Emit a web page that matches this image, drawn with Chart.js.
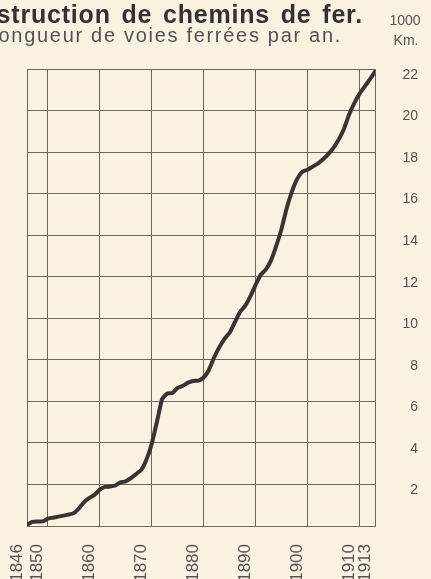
<!DOCTYPE html>
<html>
<head>
<meta charset="utf-8">
<script src="https://cdn.jsdelivr.net/npm/chart.js@4.4.0/dist/chart.umd.min.js"></script>
<style>
  html, body { margin: 0; padding: 0; background: #faf2e1; overflow: hidden; }
  #wrap { width: 431px; height: 579px; position: relative; }
</style>
</head>
<body>
<div id="wrap"><canvas id="chart"></canvas></div>
<script>
// years and railway length (thousand km)
const years = [1846, 1847, 1848, 1849, 1850, 1851, 1852, 1853, 1854, 1855,
  1856, 1857, 1858, 1859, 1860, 1861, 1862, 1863, 1864, 1865,
  1866, 1867, 1868, 1869, 1870, 1871, 1872, 1873, 1874, 1875,
  1876, 1877, 1878, 1879, 1880, 1881, 1882, 1883, 1884, 1885,
  1886, 1887, 1888, 1889, 1890, 1891, 1892, 1893, 1894, 1895,
  1896, 1897, 1898, 1899, 1900, 1901, 1902, 1903, 1904, 1905,
  1906, 1907, 1908, 1909, 1910, 1911, 1912, 1913];
const km = [0.05, 0.2, 0.22, 0.22, 0.35, 0.4, 0.45, 0.5, 0.55, 0.62,
  0.85, 1.15, 1.35, 1.5, 1.75, 1.88, 1.9, 1.95, 2.1, 2.15,
  2.3, 2.5, 2.7, 3.2, 3.95, 5.0, 6.1, 6.38, 6.4, 6.65,
  6.75, 6.9, 6.98, 7.0, 7.15, 7.5, 8.1, 8.6, 9.0, 9.3,
  9.8, 10.3, 10.6, 11.05, 11.6, 12.1, 12.35, 12.8, 13.5, 14.3,
  15.3, 16.1, 16.7, 17.05, 17.15, 17.3, 17.45, 17.65, 17.9, 18.2,
  18.6, 19.1, 19.8, 20.35, 20.8, 21.15, 21.5, 21.87];
const yearTicks = [1846, 1850, 1860, 1870, 1880, 1890, 1900, 1910, 1913];
const kmTicks = [0, 2, 4, 6, 8, 10, 12, 14, 16, 18, 20, 22];

const titleText = 'Construction de chemins de fer.';
const subtitleText = 'Longueur de voies ferrées par an.';
const unitLines = ['1000', 'Km.'];

const paper = '#faf2e1';
const ink = '#3a3431';
const rule = '#6d685f';
const grey = '#555250';
const family = '"Liberation Sans", Arial, sans-serif';

const headerPlugin = {
  id: 'header',
  beforeDraw(chart) {
    const ctx = chart.ctx;
    ctx.save();
    ctx.fillStyle = paper;
    ctx.fillRect(0, 0, chart.width, chart.height);
    ctx.restore();
  },
  afterDraw(chart) {
    const ctx = chart.ctx;
    ctx.save();
    ctx.textAlign = 'right';
    ctx.textBaseline = 'alphabetic';
    ctx.fillStyle = '#353130';
    ctx.font = 'bold 25px ' + family;
    ctx.letterSpacing = '0.8px';
    ctx.wordSpacing = '3px';
    ctx.fillText(titleText, 363, 23);
    ctx.wordSpacing = '0px';
    ctx.fillStyle = grey;
    ctx.font = '20px ' + family;
    ctx.letterSpacing = '1.7px';
    ctx.fillText(subtitleText, 342, 42);
    ctx.letterSpacing = '0px';
    ctx.textAlign = 'center';
    ctx.font = '14px ' + family;
    ctx.fillText(unitLines[0], 405, 25);
    ctx.fillText(unitLines[1], 406, 45);
    ctx.restore();
  }
};

new Chart(document.getElementById('chart'), {
  type: 'line',
  data: {
    datasets: [{
      label: 'Longueur',
      data: years.map((y, i) => ({ x: y, y: km[i] })),
      borderColor: ink,
      borderWidth: 4,
      pointRadius: 0,
      tension: 0.15,
      borderJoinStyle: 'round',
      borderCapStyle: 'round'
    }]
  },
  options: {
    responsive: true,
    maintainAspectRatio: false,
    animation: false,
    layout: { padding: { left: 27, top: 69, right: 13, bottom: 0 } },
    plugins: { legend: { display: false }, tooltip: { enabled: false } },
    scales: {
      x: {
        type: 'linear',
        min: 1846,
        max: 1913,
        afterBuildTicks: s => { s.ticks = yearTicks.map(v => ({ value: v })); },
        afterFit: s => { s.height = 53; },
        grid: { color: rule, lineWidth: 1, drawTicks: false },
        border: { color: rule },
        ticks: {
          autoSkip: false,
          minRotation: 90,
          maxRotation: 90,
          padding: 18,
          labelOffset: -10,
          color: grey,
          font: { family: family, size: 17 },
          callback: v => String(v)
        }
      },
      y: {
        position: 'right',
        min: 0,
        max: 22,
        afterBuildTicks: s => { s.ticks = kmTicks.map(v => ({ value: v })); },
        afterFit: s => { s.width = 43; },
        grid: { color: rule, lineWidth: 1, drawTicks: false },
        border: { color: rule },
        ticks: {
          crossAlign: 'far',
          padding: 14,
          labelOffset: 6,
          color: grey,
          font: { family: family, size: 14 },
          callback: v => (v === 0 ? '' : String(v))
        }
      }
    }
  },
  plugins: [headerPlugin]
});
</script>
</body>
</html>
